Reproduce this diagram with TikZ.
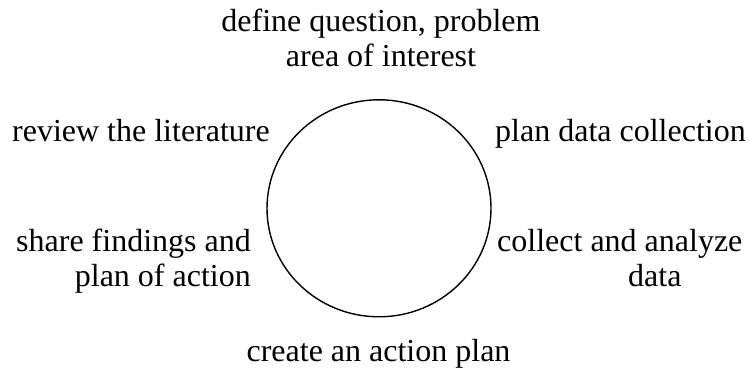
\documentclass[tikz,border=0pt]{standalone}
\usepackage{fontspec}
\setmainfont{Liberation Serif}
\usepackage{tikz}
\usetikzlibrary{positioning}

\begin{document}
\begin{tikzpicture}[x=1pt, y=1pt,
  stage/.style={inner sep=0pt, font=\fontsize{32}{35}\selectfont},
  cycle/.style={draw, line width=1.4pt}]
\useasboundingbox (0,0) rectangle (749,371);
\draw[cycle] (379,162.7) ellipse [x radius=112, y radius=108.5];
% two-line labels sit on the baseline of their last line
\node[stage, anchor=base, align=center] (define) at (381,304.5) {define question, problem\\area of interest};
\node[stage, anchor=base east] (review) at (270,229) {review the literature};
\node[stage, anchor=base west] (plandata) at (495,229) {plan data collection};
\node[stage, anchor=base east, align=right] (share) at (251,84) {share findings and\\plan of action};
\node[stage, anchor=base west, align=left] (collect) at (497,84) {collect and analyze\\\hspace*{131pt}data};
\node[stage, anchor=base] (create) at (378.5,9) {create an action plan};
\end{tikzpicture}
\end{document}
